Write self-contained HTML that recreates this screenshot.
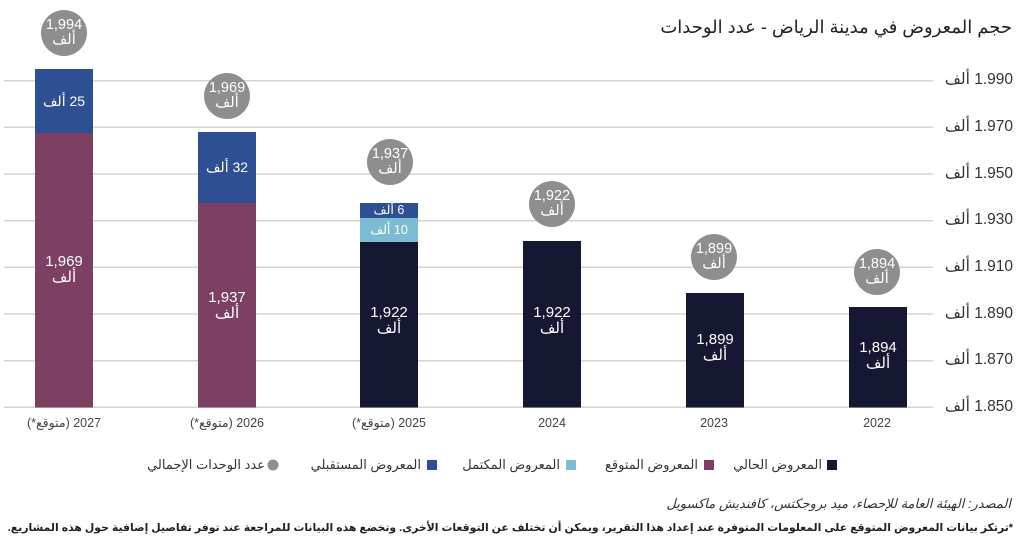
<!DOCTYPE html>
<html lang="ar">
<head>
<meta charset="utf-8">
<style>
  html,body{margin:0;padding:0;background:#fff;}
  #wrap{position:relative;width:1024px;height:549px;overflow:hidden;background:#fff;
    font-family:"Liberation Sans","DejaVu Sans",sans-serif;}
  svg{position:absolute;left:0;top:0;}
  .t{position:absolute;white-space:nowrap;line-height:1;}
  .r{direction:rtl;text-align:right;}
  .ylab{position:absolute;right:11px;width:90px;direction:rtl;text-align:right;font-size:15.5px;color:#333;line-height:1;white-space:nowrap;}
  .xlab{position:absolute;width:160px;text-align:center;font-size:12.5px;color:#444;line-height:1;white-space:nowrap;direction:rtl;}
  .cl{position:absolute;width:60px;text-align:center;color:#fff;font-size:14.5px;line-height:15px;white-space:nowrap;}
  .bl{position:absolute;width:58px;text-align:center;color:#fff;font-size:15px;line-height:16px;white-space:nowrap;}
  .sl{position:absolute;width:58px;text-align:center;color:#fff;font-size:13px;line-height:1;white-space:nowrap;direction:rtl;}
  .leg{position:absolute;top:458px;font-size:13px;color:#333;line-height:1;white-space:nowrap;direction:rtl;}
</style>
</head>
<body>
<div id="wrap">
<svg width="1024" height="549" viewBox="0 0 1024 549">
  <g stroke="#d4d4d4" stroke-width="1.5">
    <line x1="4" y1="80.7" x2="933" y2="80.7"/>
    <line x1="4" y1="127.3" x2="933" y2="127.3"/>
    <line x1="4" y1="174" x2="933" y2="174"/>
    <line x1="4" y1="220.7" x2="933" y2="220.7"/>
    <line x1="4" y1="267.3" x2="933" y2="267.3"/>
    <line x1="4" y1="314" x2="933" y2="314"/>
    <line x1="4" y1="360.7" x2="933" y2="360.7"/>
    <line x1="4" y1="407.3" x2="933" y2="407.3"/>
  </g>
  <!-- 2027 -->
  <rect x="35" y="133" width="58" height="274.5" fill="#7d3f62"/>
  <rect x="35" y="69" width="58" height="64" fill="#2f4f94"/>
  <!-- 2026 -->
  <rect x="198" y="203" width="58" height="204.5" fill="#7d3f62"/>
  <rect x="198" y="132" width="58" height="71" fill="#2f4f94"/>
  <!-- 2025 -->
  <rect x="360" y="242" width="58" height="165.5" fill="#161833"/>
  <rect x="360" y="218" width="58" height="24" fill="#7cbcd2"/>
  <rect x="360" y="203" width="58" height="15" fill="#2f4f94"/>
  <!-- 2024 -->
  <rect x="523" y="241" width="58" height="166.5" fill="#161833"/>
  <!-- 2023 -->
  <rect x="686" y="293" width="58" height="114.5" fill="#161833"/>
  <!-- 2022 -->
  <rect x="849" y="307" width="58" height="100.5" fill="#161833"/>
  <!-- circles -->
  <g fill="#8e8e8e">
    <circle cx="64" cy="33" r="23"/>
    <circle cx="227" cy="96" r="23"/>
    <circle cx="390" cy="162" r="23"/>
    <circle cx="552" cy="204" r="23"/>
    <circle cx="714" cy="257" r="23"/>
    <circle cx="877" cy="272" r="23"/>
  </g>
  <!-- legend markers -->
  <rect x="827" y="460" width="10" height="10" fill="#161833"/>
  <rect x="704" y="460" width="10" height="10" fill="#7d3f62"/>
  <rect x="566" y="460" width="10" height="10" fill="#7cbcd2"/>
  <rect x="427" y="460" width="10" height="10" fill="#2f4f94"/>
  <circle cx="273" cy="465" r="5.5" fill="#8e8e8e"/>
</svg>

<!-- title -->
<div class="t r" style="right:12px;top:18px;font-size:18px;color:#222;">حجم المعروض في مدينة الرياض - عدد الوحدات</div>

<!-- y labels -->
<div class="ylab" style="top:72px;">1.990 ألف</div>
<div class="ylab" style="top:119px;">1.970 ألف</div>
<div class="ylab" style="top:166px;">1.950 ألف</div>
<div class="ylab" style="top:212px;">1.930 ألف</div>
<div class="ylab" style="top:259px;">1.910 ألف</div>
<div class="ylab" style="top:306px;">1.890 ألف</div>
<div class="ylab" style="top:352px;">1.870 ألف</div>
<div class="ylab" style="top:399px;">1.850 ألف</div>

<!-- x labels -->
<div class="xlab" style="left:-16px;top:417px;">2027 (متوقع*)</div>
<div class="xlab" style="left:147px;top:417px;">2026 (متوقع*)</div>
<div class="xlab" style="left:309px;top:417px;">2025 (متوقع*)</div>
<div class="xlab" style="left:472px;top:417px;">2024</div>
<div class="xlab" style="left:634px;top:417px;">2023</div>
<div class="xlab" style="left:797px;top:417px;">2022</div>

<!-- circle labels -->
<div class="cl" style="left:34px;top:18px;">1,994<br>ألف</div>
<div class="cl" style="left:197px;top:81px;">1,969<br>ألف</div>
<div class="cl" style="left:360px;top:147px;">1,937<br>ألف</div>
<div class="cl" style="left:522px;top:189px;">1,922<br>ألف</div>
<div class="cl" style="left:684px;top:242px;">1,899<br>ألف</div>
<div class="cl" style="left:847px;top:257px;">1,894<br>ألف</div>

<!-- segment labels -->
<div class="sl" style="left:35px;top:94px;font-size:14px;">25 ألف</div>
<div class="sl" style="left:198px;top:160px;font-size:14px;">32 ألف</div>
<div class="sl" style="left:360px;top:204px;font-size:12.5px;">6 ألف</div>
<div class="sl" style="left:360px;top:224px;font-size:12.5px;">10 ألف</div>

<!-- bar value labels -->
<div class="bl" style="left:35px;top:254px;">1,969<br>ألف</div>
<div class="bl" style="left:198px;top:290px;">1,937<br>ألف</div>
<div class="bl" style="left:360px;top:305px;">1,922<br>ألف</div>
<div class="bl" style="left:523px;top:305px;">1,922<br>ألف</div>
<div class="bl" style="left:686px;top:332px;">1,899<br>ألف</div>
<div class="bl" style="left:849px;top:340px;">1,894<br>ألف</div>

<!-- legend -->
<div class="leg" style="right:202px;">المعروض الحالي</div>
<div class="leg" style="right:326px;">المعروض المتوقع</div>
<div class="leg" style="right:464px;">المعروض المكتمل</div>
<div class="leg" style="right:603px;">المعروض المستقبلي</div>
<div class="leg" style="right:759px;">عدد الوحدات الإجمالي</div>

<!-- source -->
<div class="t r" style="right:13px;top:497px;font-size:13px;font-style:italic;color:#333;">المصدر: الهيئة العامة للإحصاء، ميد بروجكتس، كافنديش ماكسويل</div>

<!-- footnote -->
<div class="t r" style="right:11px;top:523px;font-size:10.85px;font-weight:bold;color:#222;">*ترتكز بيانات المعروض المتوقع على المعلومات المتوفرة عند إعداد هذا التقرير، ويمكن أن تختلف عن التوقعات الأخرى. وتخضع هذه البيانات للمراجعة عند توفر تفاصيل إضافية حول هذه المشاريع.</div>
</div>
</body>
</html>
